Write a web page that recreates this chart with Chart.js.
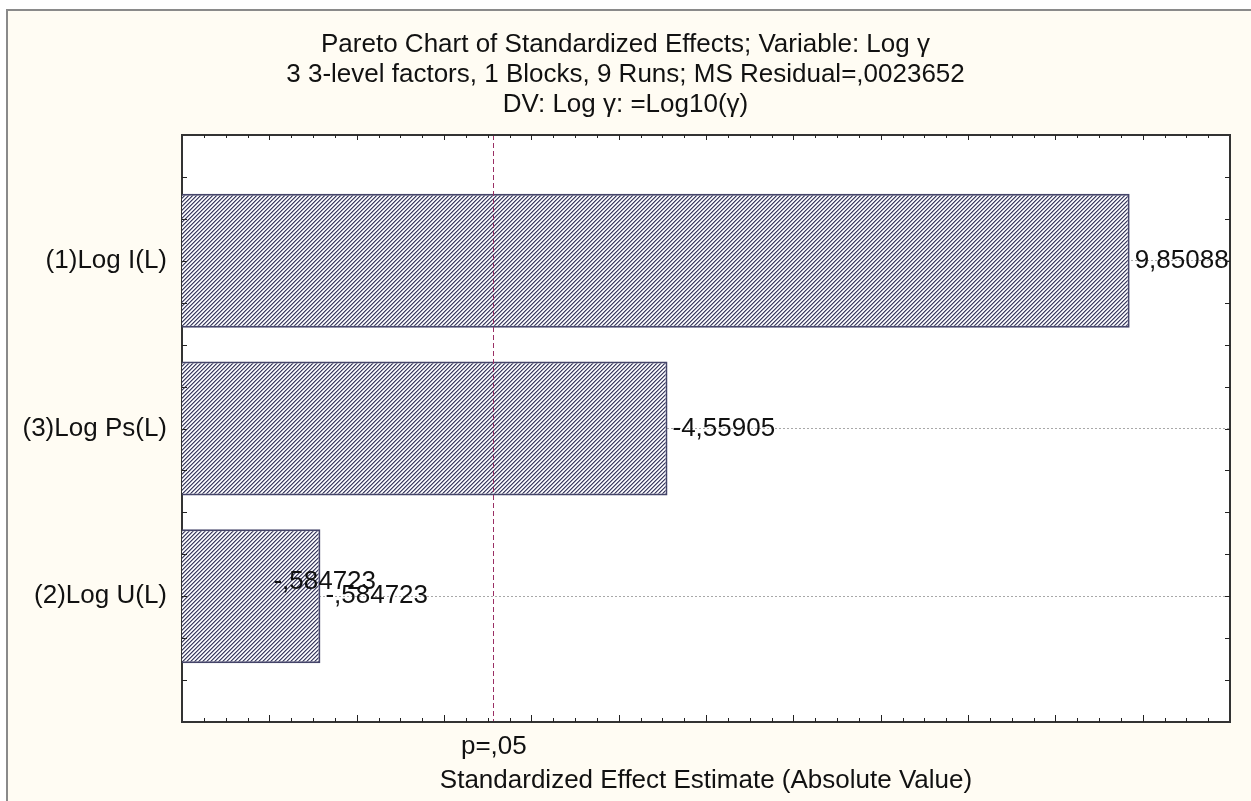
<!DOCTYPE html>
<html>
<head>
<meta charset="utf-8">
<title>Pareto Chart of Standardized Effects</title>
<script src="https://cdn.jsdelivr.net/npm/chart.js@4.4.1/dist/chart.umd.min.js"></script>
<style>
  html, body { margin: 0; padding: 0; background: #ffffff; }
  canvas { display: block; }
</style>
</head>
<body>
<canvas id="pareto" width="1251" height="801"></canvas>
<script>
// Standardized effects, sorted by absolute size (largest first)
const factors = ['(1)Log I(L)', '(3)Log Ps(L)', '(2)Log U(L)'];
const effects = [9.85088, -4.55905, -0.584723];

// Significance reference: t(0.975; df = 5)
const alpha = 0.05;
const tCritical = 2.5706;

const titleLines = [
  'Pareto Chart of Standardized Effects; Variable: Log γ',
  '3 3-level factors, 1 Blocks, 9 Runs; MS Residual=,0023652',
  'DV: Log γ: =Log10(γ)'
];
const xTitle = 'Standardized Effect Estimate (Absolute Value)';

// Axis ranges
const xMin = -1, xMax = 11;
const rowMin = 0.25, rowMax = 3.75;
const tickStep = 0.25;

// Decimal comma, no leading zero before the comma
function fmt(v) {
  return String(v).replace('.', ',').replace(/^(-?)0,/, '$1,');
}

// Diagonal "////" hatch used for the bars
function hatchPattern() {
  const c = document.createElement('canvas');
  c.width = 4; c.height = 4;
  const g = c.getContext('2d');
  const img = g.createImageData(4, 4);
  const shades = [[150, 150, 172], [255, 255, 255], [222, 222, 232], [62, 62, 96]];
  for (let y = 0; y < 4; y++) {
    for (let x = 0; x < 4; x++) {
      const s = shades[(x + y) % 4];
      const o = (y * 4 + x) * 4;
      img.data[o] = s[0]; img.data[o + 1] = s[1]; img.data[o + 2] = s[2]; img.data[o + 3] = 255;
    }
  }
  g.putImageData(img, 0, 0);
  return g.createPattern(c, 'repeat');
}

const FONT = '"Liberation Sans", Arial, sans-serif';
Chart.defaults.font.family = FONT;
Chart.defaults.font.size = 26;
Chart.defaults.color = '#111111';

// Window background, frame and white plot area
const backdrop = {
  id: 'backdrop',
  beforeDraw(chart) {
    const { ctx, width, height, chartArea: a } = chart;
    ctx.save();
    ctx.fillStyle = '#ffffff';
    ctx.fillRect(0, 0, width, height);
    ctx.fillStyle = '#fffcf3';
    ctx.fillRect(8, 11, width - 8, height - 11);
    ctx.strokeStyle = '#8a8a8a';
    ctx.lineWidth = 2;
    ctx.beginPath();
    ctx.moveTo(7, height);
    ctx.lineTo(7, 10);
    ctx.lineTo(width, 10);
    ctx.stroke();
    ctx.fillStyle = '#ffffff';
    ctx.fillRect(a.left, a.top, a.right - a.left, a.bottom - a.top);
    ctx.restore();
  }
};

// Top edge of the plot box and inward tick marks on all four sides
const boxTicks = {
  id: 'boxTicks',
  afterDraw(chart) {
    const { ctx, chartArea: a, scales: { x, y } } = chart;
    ctx.save();
    ctx.strokeStyle = '#333333';
    ctx.lineWidth = 2;
    ctx.beginPath();
    ctx.moveTo(a.left - 1, a.top);
    ctx.lineTo(a.right + 1, a.top);
    ctx.stroke();

    ctx.strokeStyle = '#222222';
    ctx.lineWidth = 1;
    ctx.beginPath();
    const nx = Math.round((xMax - xMin) / tickStep);
    for (let k = 1; k < nx; k++) {
      const v = xMin + k * tickStep;
      const px = Math.round(x.getPixelForValue(v)) + 0.5;
      const major = Number.isInteger(v);
      ctx.moveTo(px, a.bottom);
      ctx.lineTo(px, a.bottom - (major ? 7 : 4));
      ctx.moveTo(px, a.top);
      ctx.lineTo(px, a.top + (major ? 5 : 3));
    }
    const ny = Math.round((rowMax - rowMin) / tickStep);
    for (let k = 1; k < ny; k++) {
      const py = Math.round(y.getPixelForValue(rowMin + k * tickStep)) + 0.5;
      ctx.moveTo(a.left, py);
      ctx.lineTo(a.left + 5, py);
      ctx.moveTo(a.right, py);
      ctx.lineTo(a.right - 5, py);
    }
    ctx.stroke();
    ctx.restore();
  }
};

// Signed effect printed at the end of each bar
const effectLabels = {
  id: 'effectLabels',
  afterDatasetsDraw(chart) {
    const { ctx } = chart;
    const bars = chart.getDatasetMeta(0).data;
    ctx.save();
    ctx.font = '26px ' + FONT;
    ctx.fillStyle = '#111111';
    ctx.textAlign = 'left';
    ctx.textBaseline = 'middle';
    bars.forEach((bar, i) => {
      ctx.fillText(fmt(effects[i]), bar.x + 5, bar.y);
    });
    // the smallest effect is printed a second time, up and to the left
    const last = bars.length - 1;
    ctx.fillText(fmt(effects[last]), bars[last].x - 47, bars[last].y - 14);
    ctx.restore();
  }
};

new Chart(document.getElementById('pareto'), {
  type: 'bar',
  data: {
    datasets: [{
      data: effects.map((e, i) => ({ x: Math.abs(e), y: i + 1 })),
      base: xMin,
      backgroundColor: hatchPattern(),
      borderColor: '#45456a',
      borderWidth: 2,
      borderSkipped: 'start',
      categoryPercentage: 1,
      barPercentage: 0.8
    }]
  },
  options: {
    responsive: false,
    animation: false,
    indexAxis: 'y',
    layout: { padding: 0 },
    plugins: {
      legend: { display: false },
      tooltip: { enabled: false },
      title: {
        display: true,
        text: titleLines,
        color: '#111111',
        font: { size: 26, weight: 'normal', lineHeight: '30px' },
        padding: { top: 30, bottom: 15 }
      }
    },
    scales: {
      x: {
        type: 'linear',
        position: 'bottom',
        min: xMin,
        max: xMax,
        afterBuildTicks: s => { s.ticks = [{ value: tCritical }]; },
        afterFit: s => { s.height = 79; },
        ticks: {
          callback: () => 'p=' + fmt(alpha),
          padding: 9,
          maxRotation: 0,
          autoSkip: false,
          font: { size: 26 }
        },
        // p-level line sits on top of the bars
        grid: { z: 1, color: '#9a2f64', lineWidth: 1, drawTicks: false },
        border: { z: 1, color: '#333333', width: 2, dash: [5, 3] },
        title: {
          display: true,
          text: xTitle,
          font: { size: 26 },
          padding: { top: 0, bottom: 5 }
        }
      },
      y: {
        type: 'linear',
        position: 'left',
        reverse: true,
        offset: false,
        min: rowMin,
        max: rowMax,
        afterBuildTicks: s => { s.ticks = factors.map((_, i) => ({ value: i + 1 })); },
        afterFit: s => { s.width = 182; },
        ticks: {
          callback: (v, i) => factors[i],
          padding: 15,
          autoSkip: false,
          font: { size: 26 }
        },
        grid: { offset: false, color: '#a8a8a8', lineWidth: 1, drawTicks: false },
        border: { color: '#333333', width: 2, dash: [2, 2] }
      },
      y2: {
        type: 'linear',
        position: 'right',
        min: rowMin,
        max: rowMax,
        ticks: { display: false },
        grid: { display: false, drawTicks: false },
        border: { color: '#333333', width: 2 },
        afterFit: s => { s.width = 21; }
      }
    }
  },
  plugins: [backdrop, boxTicks, effectLabels]
});
</script>
</body>
</html>
